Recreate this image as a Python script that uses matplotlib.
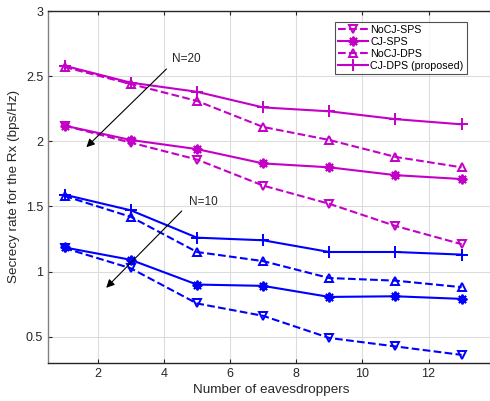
import numpy as np
import matplotlib.pyplot as plt

eves = np.array([1, 3, 5, 7, 9, 11, 13])

# N = 20
nocj_sps_20 = [2.12, 1.99, 1.86, 1.66, 1.52, 1.35, 1.21]
cj_sps_20 = [2.12, 2.01, 1.94, 1.83, 1.80, 1.74, 1.71]
nocj_dps_20 = [2.57, 2.44, 2.31, 2.11, 2.01, 1.88, 1.80]
cj_dps_20 = [2.58, 2.45, 2.38, 2.26, 2.23, 2.17, 2.13]

# N = 10
nocj_sps_10 = [1.18, 1.025, 0.755, 0.66, 0.49, 0.425, 0.36]
cj_sps_10 = [1.185, 1.09, 0.90, 0.89, 0.805, 0.81, 0.79]
nocj_dps_10 = [1.58, 1.42, 1.15, 1.08, 0.95, 0.93, 0.88]
cj_dps_10 = [1.59, 1.47, 1.26, 1.24, 1.15, 1.15, 1.13]

labels = ['NoCJ-SPS', 'CJ-SPS', 'NoCJ-DPS', 'CJ-DPS (proposed)']

mag = '#c400c8'
blue = '#0000ff'
# (linestyle, marker, size) -- asterisk drawn as 8-arm star like matlab '*'
styles = [('--', 'v', 6), ('-', (8, 2, 0), 7), ('--', '^', 6), ('-', '+', 8)]

plt.rcParams['font.family'] = 'Liberation Sans'
fig = plt.figure(figsize=(4.9, 4.01), dpi=100)
ax = fig.add_axes([0.098, 0.0955, 0.9116, 0.877])

for ys, (ls, mk, ms), lab in zip([nocj_sps_20, cj_sps_20, nocj_dps_20, cj_dps_20], styles, labels):
    ax.plot(eves, ys, ls=ls, marker=mk, color=mag, lw=1.5, ms=ms,
            mfc='none', mew=1.4, label=lab)
for ys, (ls, mk, ms) in zip([nocj_sps_10, cj_sps_10, nocj_dps_10, cj_dps_10], styles):
    ax.plot(eves, ys, ls=ls, marker=mk, color=blue, lw=1.5, ms=ms,
            mfc='none', mew=1.4)

ax.annotate('', xy=(1.6, 1.94), xytext=(4.14, 2.57),
            arrowprops=dict(arrowstyle='-|>', color='black', lw=0.8, mutation_scale=12))
ax.text(4.24, 2.63, 'N=20', fontsize=8.5, color='#262626', va='center')
ax.annotate('', xy=(2.2, 0.86), xytext=(4.6, 1.48),
            arrowprops=dict(arrowstyle='-|>', color='black', lw=0.8, mutation_scale=12))
ax.text(4.75, 1.53, 'N=10', fontsize=8.5, color='#262626', va='center')

ax.set_xlim(0.5, 14)
ax.set_ylim(0.3, 3)
ax.set_xticks([2, 4, 6, 8, 10, 12])
ax.set_yticks([0.5, 1, 1.5, 2, 2.5, 3])
ax.set_yticklabels(['0.5', '1', '1.5', '2', '2.5', '3'])
ax.grid(True, color='#dcdcdc', lw=0.8)
ax.tick_params(direction='in', top=True, right=True, labelsize=9, colors='#262626', length=3)
for s in ax.spines.values():
    s.set_color('#262626')
    s.set_linewidth(1.0)
ax.spines['left'].set_color('#808080')
ax.set_xlabel('Number of eavesdroppers', fontsize=9.7, color='#262626', labelpad=3)
ax.set_ylabel('Secrecy rate for the Rx (bps/Hz)', fontsize=9.7, color='#262626', labelpad=4)

leg = ax.legend(loc='upper right', bbox_to_anchor=(0.937, 0.97), fontsize=7.7,
                frameon=True, fancybox=False, edgecolor='#262626',
                handlelength=2.8, borderpad=0.3, labelspacing=0.2, handletextpad=0.2,
                borderaxespad=0)
leg.get_frame().set_linewidth(0.8)

fig.savefig('out.png', dpi=100)
